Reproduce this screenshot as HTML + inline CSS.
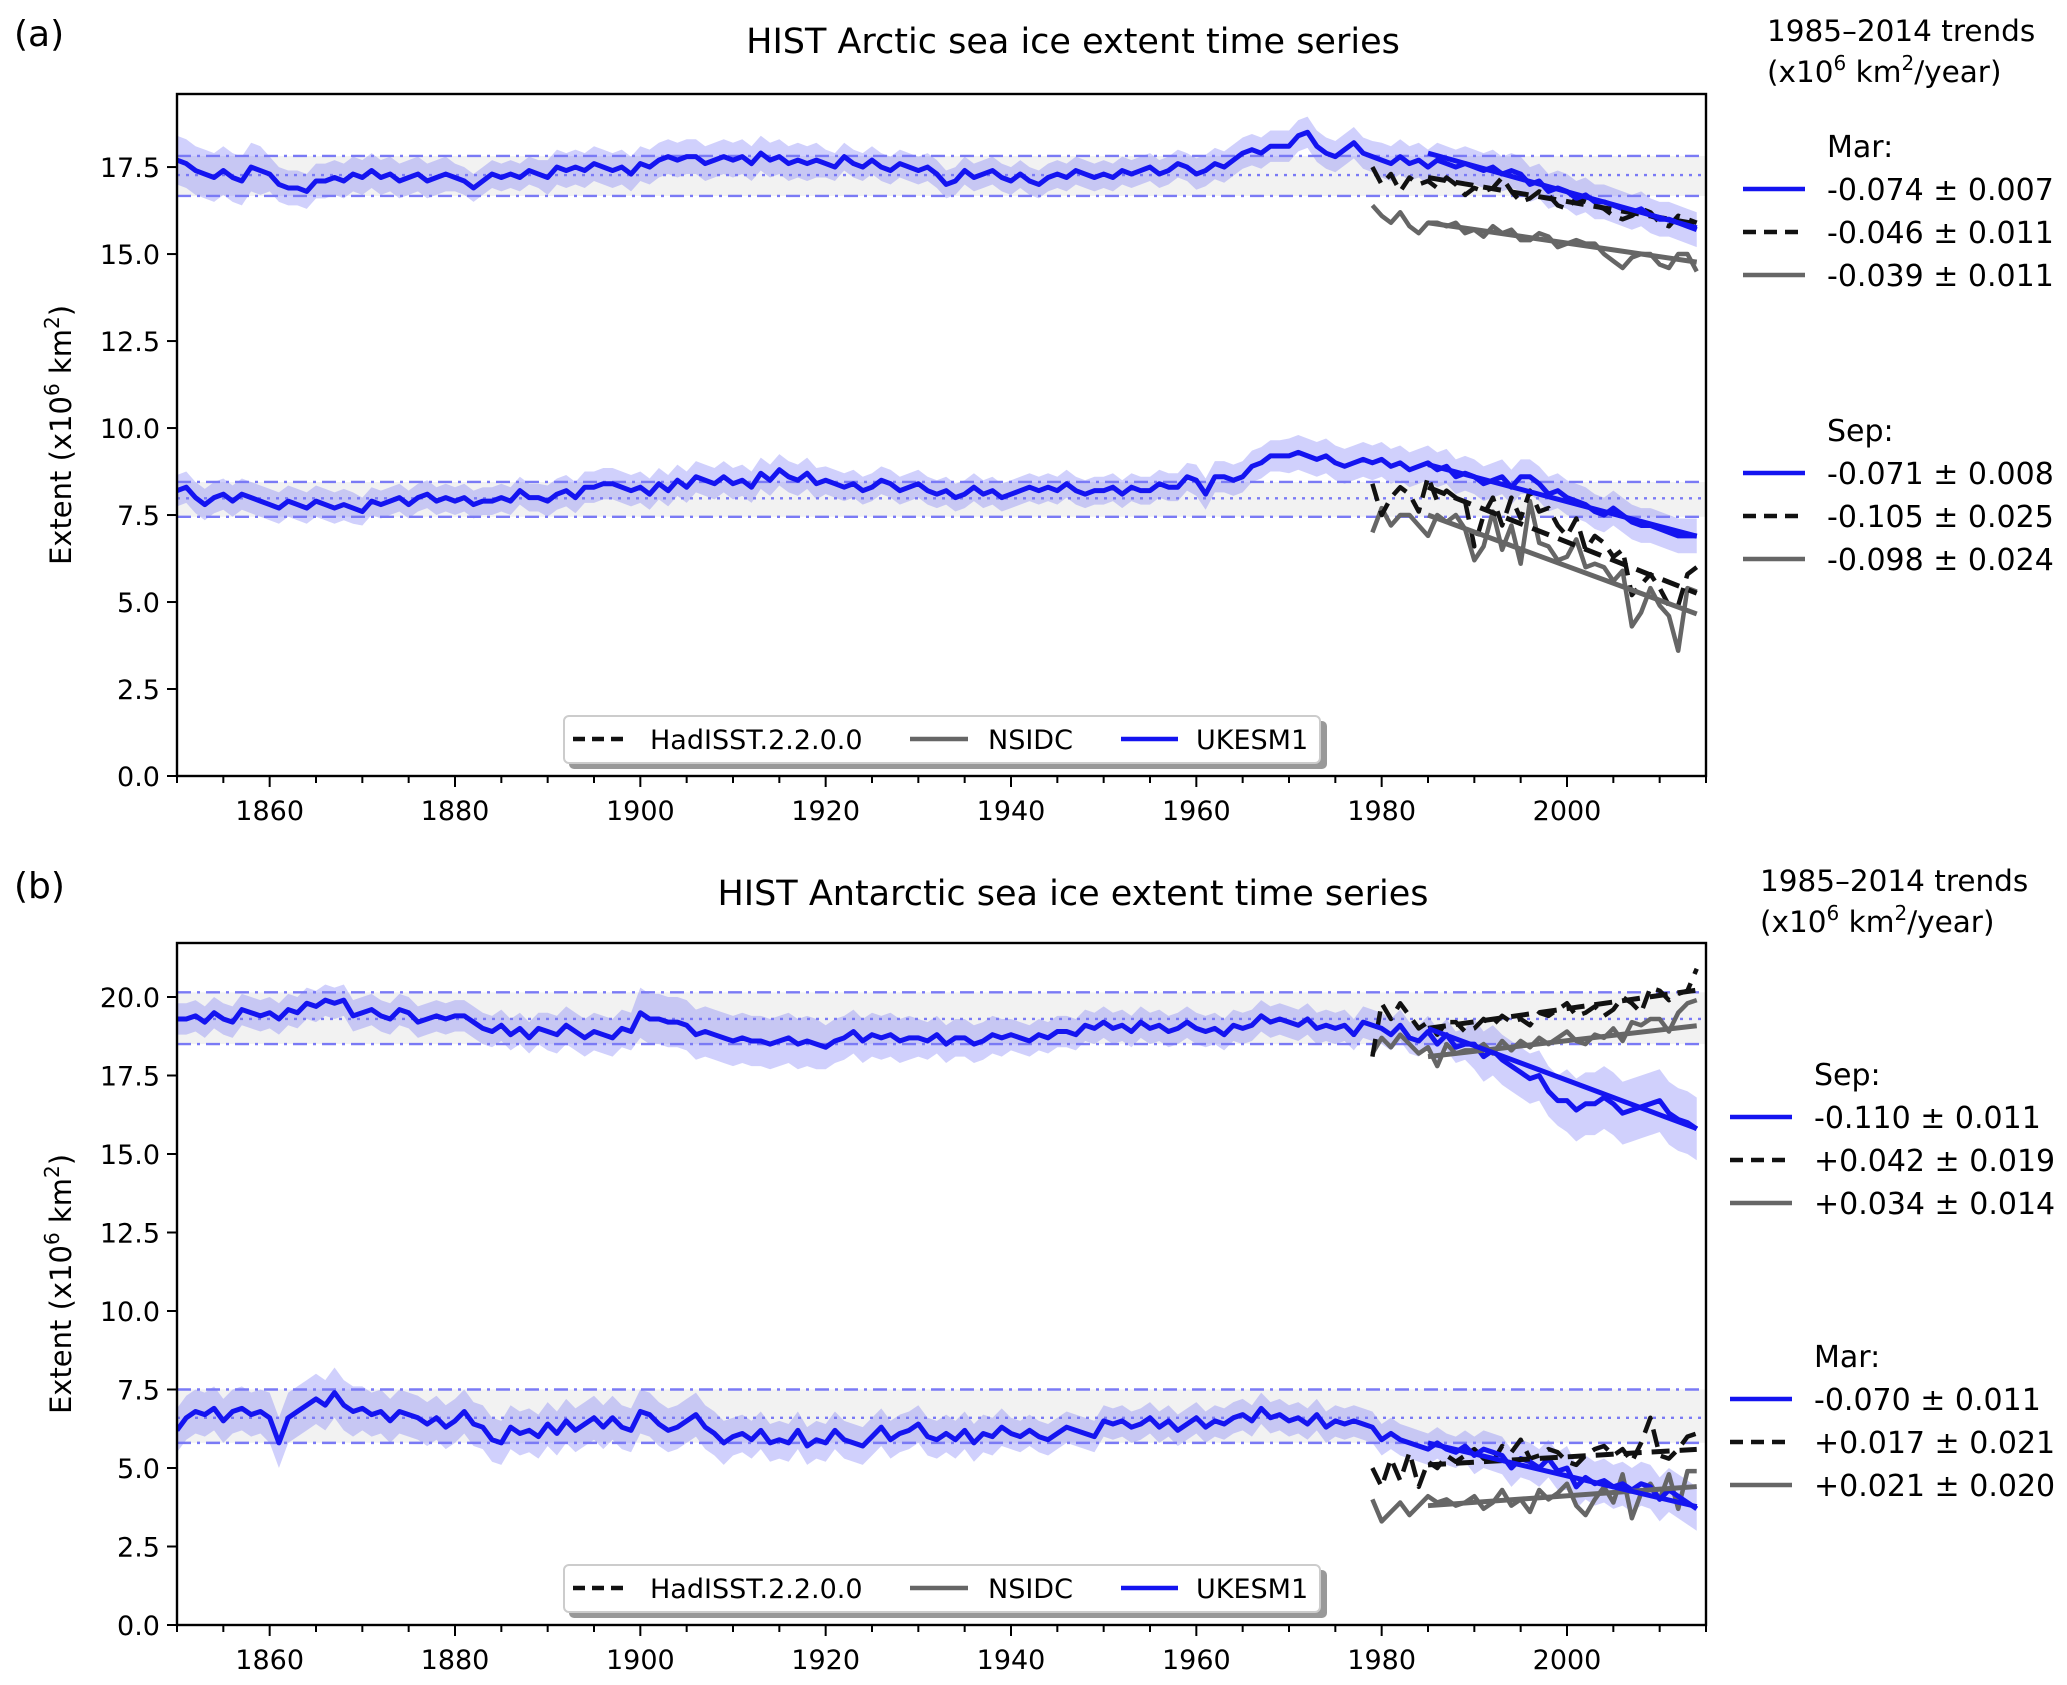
<!DOCTYPE html>
<html><head><meta charset="utf-8"><style>
html,body{margin:0;padding:0;background:#fff;}
svg{display:block;font-family:"DejaVu Sans","Liberation Sans",sans-serif;}
</style></head><body>
<svg id="fig" width="2067" height="1685" viewBox="0 0 2067 1685" xmlns="http://www.w3.org/2000/svg"></svg>
<script>
// ---------- DATA ----------
const yearsStart = 1850;
const obsStart = 1979;
const trendStart = 1985, trendEnd = 2014;
const xTicks = [1860,1880,1900,1920,1940,1960,1980,2000];
const yTicksA = ["0.0","2.5","5.0","7.5","10.0","12.5","15.0","17.5"];
const yTicksB = ["0.0","2.5","5.0","7.5","10.0","12.5","15.0","17.5","20.0"];

const arcMar = [17.7,17.6,17.4,17.3,17.2,17.4,17.2,17.1,17.5,17.4, 17.3,17.0,16.9,16.9,16.8,17.1,17.1,17.2,17.1,17.3, 17.2,17.4,17.2,17.3,17.1,17.2,17.3,17.1,17.2,17.3, 17.2,17.1,16.9,17.1,17.3,17.2,17.3,17.2,17.4,17.3, 17.2,17.5,17.4,17.5,17.4,17.6,17.5,17.4,17.5,17.3, 17.6,17.5,17.7,17.8,17.7,17.8,17.8,17.6,17.7,17.8, 17.7,17.8,17.6,17.9,17.7,17.8,17.6,17.7,17.6,17.7, 17.6,17.5,17.8,17.6,17.5,17.7,17.5,17.4,17.6,17.5, 17.4,17.5,17.3,17.0,17.1,17.4,17.2,17.3,17.4,17.2, 17.1,17.3,17.1,17.0,17.2,17.3,17.2,17.4,17.3,17.2, 17.3,17.2,17.4,17.3,17.4,17.5,17.3,17.4,17.6,17.5, 17.3,17.4,17.6,17.5,17.7,17.9,18.0,17.9,18.1,18.1, 18.1,18.4,18.5,18.1,17.9,17.8,18.0,18.2,17.9,17.8, 17.7,17.6,17.8,17.6,17.7,17.5,17.7,17.6,17.5,17.6, 17.5,17.4,17.5,17.3,17.4,17.3,17.0,17.1,16.8,16.9, 16.8,16.6,16.7,16.5,16.5,16.4,16.3,16.2,16.3,16.1, 16.0,16.0,15.9,15.8,15.7];
const arcSep = [8.2,8.3,8.0,7.8,8.0,8.1,7.9,8.1,8.0,7.9, 7.8,7.7,7.9,7.8,7.7,7.9,7.8,7.7,7.8,7.7, 7.6,7.9,7.8,7.9,8.0,7.8,8.0,8.1,7.9,8.0, 7.9,8.0,7.8,7.9,7.9,8.0,7.9,8.2,8.0,8.0, 7.9,8.1,8.2,8.0,8.3,8.3,8.4,8.4,8.3,8.2, 8.3,8.1,8.4,8.2,8.5,8.3,8.6,8.5,8.4,8.6, 8.4,8.5,8.3,8.7,8.5,8.8,8.6,8.5,8.7,8.4, 8.5,8.4,8.3,8.4,8.2,8.3,8.5,8.4,8.2,8.3, 8.4,8.2,8.1,8.2,8.0,8.1,8.3,8.1,8.2,8.0, 8.1,8.2,8.3,8.2,8.3,8.2,8.4,8.2,8.1,8.2, 8.2,8.3,8.1,8.3,8.2,8.2,8.4,8.3,8.3,8.6, 8.5,8.1,8.6,8.6,8.5,8.6,8.9,9.0,9.2,9.2, 9.2,9.3,9.2,9.1,9.2,9.0,8.9,9.0,9.1,9.0, 9.1,8.9,9.0,8.8,8.9,9.0,8.8,8.9,8.6,8.7, 8.6,8.4,8.5,8.6,8.3,8.6,8.6,8.4,8.1,8.2, 8.0,7.9,7.8,7.6,7.5,7.7,7.5,7.3,7.2,7.2, 7.1,7.0,6.9,6.9,6.9];
const antSep = [19.3,19.3,19.4,19.2,19.5,19.3,19.2,19.6,19.5,19.4, 19.5,19.3,19.6,19.5,19.8,19.7,19.9,19.8,19.9,19.4, 19.5,19.6,19.4,19.3,19.6,19.5,19.2,19.3,19.4,19.3, 19.4,19.4,19.2,19.0,18.9,19.1,18.8,19.0,18.7,19.0, 18.9,18.8,19.1,18.9,18.7,18.9,18.8,18.7,19.0,18.9, 19.5,19.3,19.3,19.2,19.2,19.1,18.8,18.9,18.8,18.7, 18.6,18.7,18.6,18.6,18.5,18.6,18.7,18.5,18.6,18.5, 18.4,18.6,18.7,18.9,18.6,18.8,18.7,18.8,18.6,18.7, 18.7,18.6,18.8,18.5,18.7,18.7,18.5,18.6,18.8,18.7, 18.8,18.7,18.6,18.8,18.7,18.9,18.9,18.8,19.1,19.0, 19.2,19.0,19.1,18.9,19.2,19.0,19.1,18.9,19.0,19.2, 19.0,18.9,19.0,18.8,19.1,19.0,19.1,19.4,19.2,19.3, 19.2,19.1,19.3,19.0,19.1,19.0,19.1,18.8,19.2,19.1, 19.0,18.8,19.1,18.7,18.6,18.9,18.5,18.8,18.4,18.5, 18.5,18.1,18.3,18.0,17.8,17.6,17.4,17.5,17.0,16.7, 16.7,16.4,16.6,16.6,16.8,16.6,16.3,16.4,16.5,16.6, 16.7,16.3,16.1,16.0,15.8];
const antMar = [6.2,6.6,6.8,6.7,6.9,6.5,6.8,6.9,6.7,6.8, 6.6,5.8,6.6,6.8,7.0,7.2,7.0,7.4,7.0,6.8, 6.9,6.7,6.8,6.5,6.8,6.7,6.6,6.4,6.6,6.3, 6.5,6.8,6.4,6.3,5.9,5.8,6.3,6.1,6.2,6.0, 6.4,6.1,6.5,6.2,6.4,6.6,6.3,6.6,6.3,6.2, 6.8,6.7,6.4,6.2,6.3,6.5,6.7,6.3,6.1,5.8, 6.0,6.1,5.9,6.2,5.8,5.9,5.8,6.2,5.7,5.9, 5.8,6.2,5.9,5.8,5.7,6.0,6.3,5.9,6.1,6.2, 6.4,6.0,5.9,6.1,5.9,6.2,5.8,6.1,6.0,6.3, 6.1,6.0,6.2,6.0,5.9,6.1,6.3,6.2,6.1,6.0, 6.5,6.4,6.5,6.3,6.4,6.6,6.3,6.5,6.2,6.4, 6.6,6.3,6.5,6.4,6.6,6.7,6.5,6.9,6.6,6.7, 6.5,6.6,6.4,6.7,6.3,6.5,6.4,6.5,6.4,6.3, 5.9,6.1,5.9,5.8,5.7,5.6,5.8,5.6,5.5,5.7, 5.4,5.6,5.5,5.4,5.0,5.3,5.2,5.0,5.3,4.9, 5.0,4.4,4.7,4.5,4.6,4.4,4.5,4.3,4.5,4.4, 4.0,4.3,4.1,3.9,3.7];

// ensemble half-spread per decade (1850s..2010s)
const arcMarSpread = [0.7,0.5,0.5,0.4,0.5,0.5,0.5,0.4,0.4,0.4,0.4,0.45,0.45,0.5,0.5,0.5,0.5];
const arcSepSpread = [0.45,0.45,0.4,0.4,0.45,0.45,0.45,0.4,0.4,0.4,0.4,0.45,0.5,0.5,0.5,0.5,0.5];
const antSepSpread = [0.5,0.5,0.5,0.5,0.6,0.8,0.8,0.7,0.6,0.5,0.5,0.5,0.5,0.5,0.8,1.0,1.0];
const antMarSpread = [0.7,0.8,0.7,0.7,0.7,0.7,0.6,0.6,0.6,0.5,0.5,0.5,0.5,0.5,0.6,0.7,0.7];

// reference lines: [lower, mean, upper]
const arcMarRef = [16.67,17.27,17.82];
const arcSepRef = [7.45,7.98,8.45];
const antSepRef = [18.5,19.3,20.15];
const antMarRef = [5.8,6.6,7.5];

const hadArcMar = [17.5,17.0,17.3,16.8,17.2,17.0,17.1,16.9,17.2,17.0,16.7,16.9,16.8,16.9,17.2,16.8,16.5,16.6,16.8,16.7,16.4,16.3,16.6,16.5,16.4,16.3,16.1,16.0,16.1,16.3,16.2,15.9,15.8,16.1,16.0,15.9];
const nsArcMar = [16.4,16.1,15.9,16.2,15.8,15.6,15.9,15.9,15.8,15.9,15.6,15.7,15.5,15.8,15.6,15.7,15.4,15.4,15.6,15.5,15.2,15.3,15.4,15.3,15.3,15.0,14.8,14.6,14.9,15.0,15.0,14.7,14.6,15.0,15.0,14.5];
const hadArcSep = [8.4,7.5,8.0,8.3,8.1,7.6,8.6,7.9,8.2,8.0,7.9,6.6,7.5,8.0,7.2,8.0,7.4,8.2,7.6,7.7,7.2,6.9,7.4,6.5,6.9,6.7,6.3,6.5,5.2,5.5,5.8,5.4,4.9,4.9,5.8,6.0];
const nsArcSep = [7.0,7.7,7.2,7.5,7.5,7.2,6.9,7.5,7.3,7.5,7.1,6.2,6.6,7.6,6.5,7.2,6.1,7.9,6.7,6.6,6.2,6.3,6.8,6.0,6.1,6.0,5.6,5.9,4.3,4.7,5.4,4.9,4.6,3.6,5.4,5.3];
const hadAntSep = [18.1,19.8,19.3,19.8,19.4,19.0,19.2,18.8,19.2,19.2,18.9,19.0,19.3,19.1,19.4,19.2,19.3,19.1,19.5,19.4,19.6,19.8,19.4,19.5,19.7,19.4,19.6,20.0,19.8,19.5,20.3,20.2,19.9,20.1,20.2,20.9];
const nsAntSep = [18.2,18.7,18.4,18.8,18.5,18.2,18.4,17.8,18.5,18.2,18.3,18.3,18.5,18.2,18.6,18.3,18.6,18.4,18.7,18.5,18.7,18.9,18.6,18.5,18.8,18.7,19.0,18.6,19.2,19.1,19.3,19.3,18.9,19.5,19.8,19.9];
const hadAntMar = [5.0,4.4,5.3,4.6,5.5,4.4,5.2,5.0,5.4,5.2,5.4,5.6,5.3,5.2,5.7,5.5,5.9,5.3,5.4,5.6,5.5,5.2,5.1,5.4,5.6,5.7,5.4,5.6,5.2,5.8,6.6,5.4,5.3,5.6,6.0,6.1];
const nsAntMar = [4.0,3.3,3.6,3.9,3.5,3.8,4.1,3.9,4.0,3.8,3.9,4.1,3.7,3.9,4.3,3.8,4.0,3.6,4.3,4.0,4.2,4.5,3.8,3.5,4.0,4.4,3.9,4.8,3.4,4.2,4.5,4.0,4.8,3.7,4.9,4.9];

// trends: value at 1985 and slope (x10^6 km2/yr)
const trendA_MarStart = [17.9,17.2,15.9];
const trendA_MarSlope = [-0.074,-0.046,-0.039];
const trendA_SepStart = [8.95,8.3,7.5];
const trendA_SepSlope = [-0.071,-0.105,-0.098];
const trendB_SepStart = [19.0,19.0,18.1];
const trendB_SepSlope = [-0.110,0.042,0.034];
const trendB_MarStart = [5.8,5.1,3.8];
const trendB_MarSlope = [-0.070,0.017,0.021];
const trendA_MarLabels = ["-0.074 ± 0.007","-0.046 ± 0.011","-0.039 ± 0.011"];
const trendA_SepLabels = ["-0.071 ± 0.008","-0.105 ± 0.025","-0.098 ± 0.024"];
const trendB_SepLabels = ["-0.110 ± 0.011","+0.042 ± 0.019","+0.034 ± 0.014"];
const trendB_MarLabels = ["-0.070 ± 0.011","+0.017 ± 0.021","+0.021 ± 0.020"];

// ---------- DRAWING ----------
const NS = "http://www.w3.org/2000/svg";
const svg = document.getElementById('fig');
function mk(tag, attrs, parent){const e=document.createElementNS(NS,tag);for(const k in attrs)e.setAttribute(k,attrs[k]);(parent||svg).appendChild(e);return e;}
function txt(str, attrs, parent){const e=mk('text',attrs,parent);e.textContent=str;return e;}

const X0=177, X1=1706, YR0=1850, YR1=2015;
const BLUE="#1414f0", LBLUE="#7a7af5", SHADE="rgba(120,120,245,0.35)", GREY="#666666", BLACK="#111111";
const colors=[BLUE,BLACK,GREY];
const dashes=[null,"18,10",null];

function panel(cfg){
  const g=mk('g',{});
  
  
  const xs=y=>X0+(y-YR0)/(YR1-YR0)*(X1-X0);
  const ys=v=>cfg.yb-(v/cfg.vmax)*(cfg.yb-cfg.yt);
  const clip='clip-'+cfg.name;
  const cp=mk('clipPath',{id:clip},g);mk('rect',{x:X0,y:cfg.yt,width:X1-X0,height:cfg.yb-cfg.yt},cp);
  const plot=mk('g',{'clip-path':'url(#'+clip+')'},g);
  cfg.series.forEach((s,si)=>{
    const band=mk('rect',{x:X0,y:ys(s.ref[2]),width:X1-X0,height:ys(s.ref[0])-ys(s.ref[2]),fill:'#f2f2f2'},plot);
    
    let up=[],lo=[];
    s.mean.forEach((v,i)=>{const yr=YR0+i;const sp=s.spread[Math.min(Math.floor(i/10),s.spread.length-1)];up.push(xs(yr)+','+ys(v+sp));lo.unshift(xs(yr)+','+ys(v-sp));});
    const poly=mk('polygon',{points:up.concat(lo).join(' '),fill:SHADE,stroke:'none'},plot);
    
    [[0,'14,6,3,6'],[1,'3,6'],[2,'14,6,3,6']].forEach(([k,d])=>{
      const l=mk('line',{x1:X0,x2:X1,y1:ys(s.ref[k]),y2:ys(s.ref[k]),stroke:LBLUE,'stroke-width':2.4,'stroke-dasharray':d},plot);
      
    });
  });
  cfg.series.forEach(s=>{
    [[s.ns,GREY,null],[s.had,BLACK,'18,10']].forEach(([arr,c,d],j)=>{
      const pts=arr.map((v,i)=>xs(obsStart+i)+','+ys(v)).join(' ');
      const a={points:pts,fill:'none',stroke:c,'stroke-width':4.5,'stroke-linejoin':'round'};if(d)a['stroke-dasharray']=d;
      const pl=mk('polyline',a,plot);
      
    });
    const pm=mk('polyline',{points:s.mean.map((v,i)=>xs(YR0+i)+','+ys(v)).join(' '),fill:'none',stroke:BLUE,'stroke-width':5,'stroke-linejoin':'round'},plot);
    
    [1,2,0].forEach(k=>{
      const a={x1:xs(trendStart),x2:xs(trendEnd),y1:ys(s.tStart[k]),y2:ys(s.tStart[k]+s.tSlope[k]*(trendEnd-trendStart)),stroke:colors[k],'stroke-width':5};
      if(dashes[k])a['stroke-dasharray']=dashes[k];
      const l=mk('line',a,plot);
      
    });
  });
  const fr=mk('rect',{x:X0,y:cfg.yt,width:X1-X0,height:cfg.yb-cfg.yt,fill:'none',stroke:'#000','stroke-width':2.4},g);
  
  for(let yr=1850;yr<=2015;yr+=5){mk('line',{x1:xs(yr),x2:xs(yr),y1:cfg.yb,y2:cfg.yb+(yr%20==0?11:7),stroke:'#000','stroke-width':2},g);}
  xTicks.forEach(t=>{const e=txt(String(t),{x:xs(t),y:cfg.yb+44,'font-size':27,'text-anchor':'middle',fill:'#000'},g);});
  cfg.yTicks.forEach(t=>{const v=parseFloat(t);mk('line',{x1:X0-10,x2:X0,y1:ys(v),y2:ys(v),stroke:'#000','stroke-width':2},g);
    const e=txt(t,{x:X0-17,y:ys(v)+10,'font-size':27,'text-anchor':'end',fill:'#000'},g);});
  const yc=(cfg.yt+cfg.yb)/2;
  const yl=mk('text',{x:0,y:0,'font-size':29,'text-anchor':'middle',transform:`translate(71,${yc}) rotate(-90)`},g);
  yl.innerHTML='Extent (x10<tspan dy="-12" font-size="20">6</tspan><tspan dy="12"> km</tspan><tspan dy="-12" font-size="20">2</tspan><tspan dy="12">)</tspan>';
  
  const ti=txt(cfg.title,{x:1073,y:cfg.titleY,'font-size':35,'text-anchor':'middle'},g);
  const pl=txt(cfg.letter,{x:14,y:cfg.letterY,'font-size':36},g);
  const lg=mk('g',{},g);
  const ly=cfg.legY;
  mk('rect',{x:569,y:ly+5,width:758,height:48,rx:5,fill:'#999'},lg);
  mk('rect',{x:564,y:ly,width:756,height:47,rx:5,fill:'#fff',stroke:'#ccc','stroke-width':2},lg);
  const ent=[["HadISST.2.2.0.0",BLACK,'12,7',573,627,650],["NSIDC",GREY,null,910,968,988],["UKESM1",BLUE,null,1121,1178,1196]];
  ent.forEach(e=>{const a={x1:e[3],x2:e[4],y1:ly+23,y2:ly+23,stroke:e[1],'stroke-width':4.5};if(e[2])a['stroke-dasharray']=e[2];mk('line',a,lg);
    const t=txt(e[0],{x:e[5],y:ly+33,'font-size':27},lg);});
  const tg=mk('g',{},g);
  txt('1985–2014 trends',{x:cfg.hx,y:cfg.hy,'font-size':29.5},tg);
  const h2=mk('text',{x:cfg.hx,y:cfg.hy+41,'font-size':29.5},tg);
  h2.innerHTML='(x10<tspan dy="-12" font-size="20">6</tspan><tspan dy="12"> km</tspan><tspan dy="-12" font-size="20">2</tspan><tspan dy="12">/year)</tspan>';
  cfg.series.forEach(s=>{
    txt(s.label+':',{x:cfg.tx,y:s.legY,'font-size':30},tg);
    s.tLabels.forEach((lab,k)=>{const yy=s.legY+32+k*43;
      const a={x1:cfg.lx0,x2:cfg.lx1,y1:yy,y2:yy,stroke:colors[k],'stroke-width':4.5};if(dashes[k])a['stroke-dasharray']='13,8';mk('line',a,tg);
      const t=txt(lab,{x:cfg.tx,y:yy+11,'font-size':30},tg);});
  });
}

panel({name:'arctic-panel',title:'HIST Arctic sea ice extent time series',titleY:53,letter:'(a)',letterY:46,yt:94,yb:776,vmax:19.6,yTicks:yTicksA,legY:716,
  hx:1767,hy:41,tx:1827,lx0:1743,lx1:1805,
  series:[{key:'arctic-mar',label:'Mar',mean:arcMar,spread:arcMarSpread,ref:arcMarRef,had:hadArcMar,ns:nsArcMar,tStart:trendA_MarStart,tSlope:trendA_MarSlope,tLabels:trendA_MarLabels,legY:157},
          {key:'arctic-sep',label:'Sep',mean:arcSep,spread:arcSepSpread,ref:arcSepRef,had:hadArcSep,ns:nsArcSep,tStart:trendA_SepStart,tSlope:trendA_SepSlope,tLabels:trendA_SepLabels,legY:441}]});
panel({name:'antarctic-panel',title:'HIST Antarctic sea ice extent time series',titleY:905,letter:'(b)',letterY:898,yt:943,yb:1625,vmax:21.72,yTicks:yTicksB,legY:1565,
  hx:1760,hy:891,tx:1814,lx0:1730,lx1:1792,
  series:[{key:'antarctic-sep',label:'Sep',mean:antSep,spread:antSepSpread,ref:antSepRef,had:hadAntSep,ns:nsAntSep,tStart:trendB_SepStart,tSlope:trendB_SepSlope,tLabels:trendB_SepLabels,legY:1085},
          {key:'antarctic-mar',label:'Mar',mean:antMar,spread:antMarSpread,ref:antMarRef,had:hadAntMar,ns:nsAntMar,tStart:trendB_MarStart,tSlope:trendB_MarSlope,tLabels:trendB_MarLabels,legY:1367}]});
</script>
</body></html>
